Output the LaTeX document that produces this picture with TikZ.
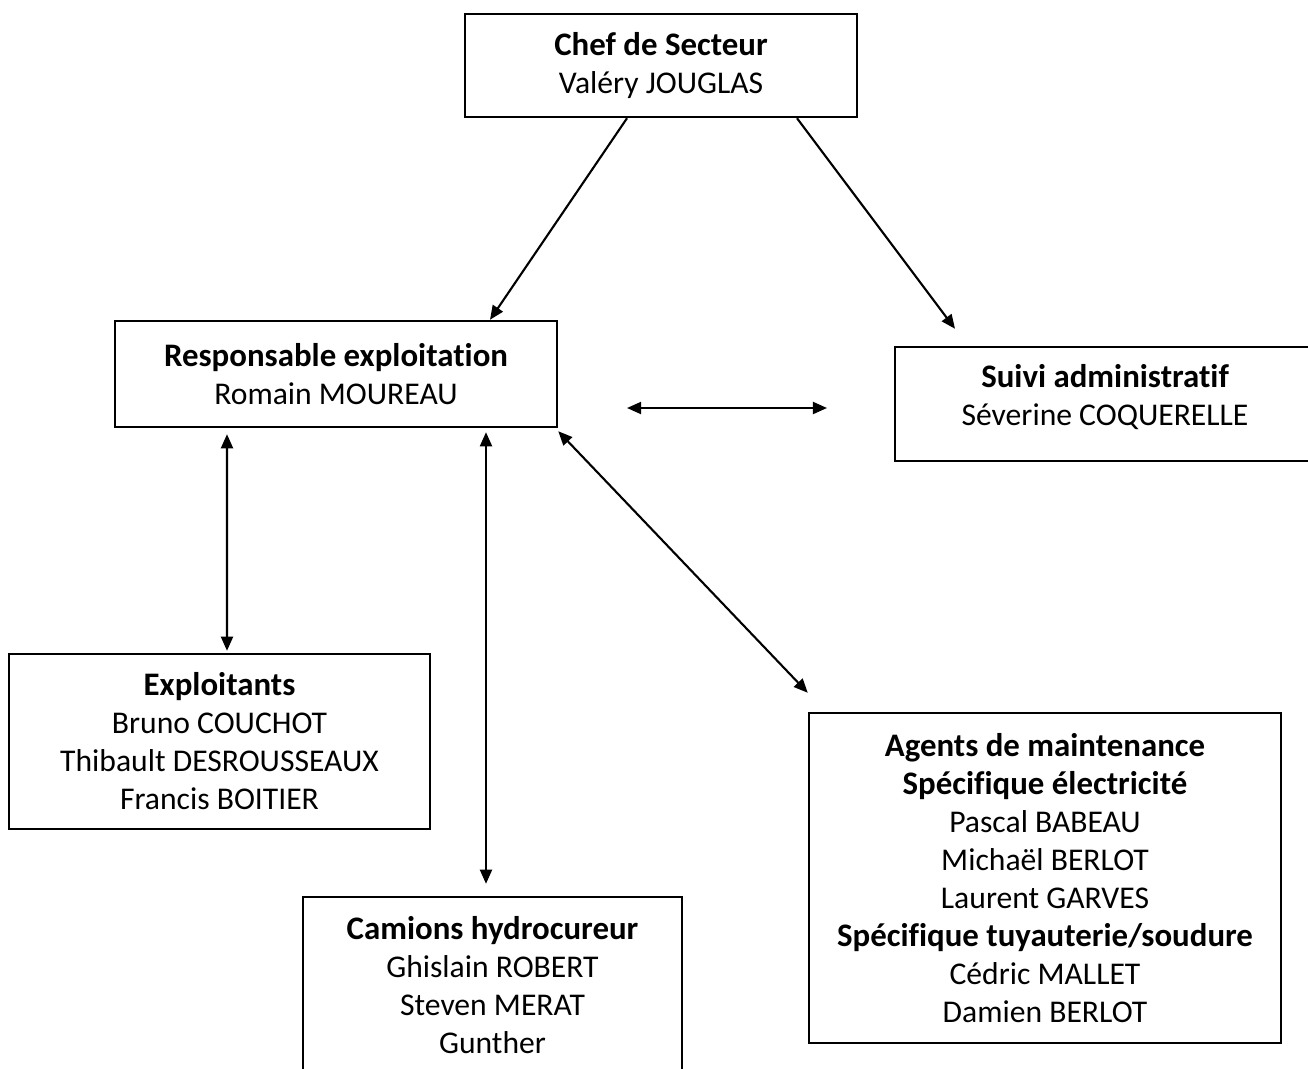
\documentclass[tikz,border=0pt]{standalone}
\usepackage{fontspec}
\setmainfont{Carlito}[Ligatures=NoCommon]
\usetikzlibrary{arrows.meta}
\newcommand{\boxhead}[1]{{\fontsize{9.35}{10.8}\selectfont\textbf{#1}}}
\begin{document}
\begin{tikzpicture}[
  box/.style={draw, line width=0.7pt, align=center, inner sep=0pt,
    font=\fontsize{9}{10.8}\selectfont},
  arr/.style={line width=0.6pt, -{Triangle[length=4pt,width=3.4pt]}},
  darr/.style={line width=0.6pt, {Triangle[length=4pt,width=3.4pt]}-{Triangle[length=4pt,width=3.4pt]}}]
			\useasboundingbox (0,0) rectangle (13.08,-10.68);
			\node[box, minimum width=3.92cm, minimum height=1.03cm] (chef) at (6.61,-0.655) {\boxhead{Chef de Secteur}\\Valéry JOUGLAS};
			\node[box, minimum width=4.42cm, minimum height=1.06cm] (resp) at (3.36,-3.74) {\boxhead{Responsable exploitation}\\Romain MOUREAU};
			\node[box, minimum width=4.2cm, minimum height=1.14cm] (suivi) at (11.05,-4.04) {\boxhead{Suivi administratif}\\Séverine COQUERELLE\rule[-0.18cm]{0pt}{0pt}};
			\node[box, minimum width=4.21cm, minimum height=1.75cm] (expl) at (2.195,-7.415) {\boxhead{Exploitants}\\Bruno COUCHOT\\Thibault DESROUSSEAUX\\Francis BOITIER};
			\node[box, minimum width=3.79cm, minimum height=1.76cm] (cam) at (4.925,-9.85) {\boxhead{Camions hydrocureur}\\Ghislain ROBERT\\Steven MERAT\\Gunther};
			\node[box, minimum width=4.72cm, minimum height=3.30cm] (agents) at (10.45,-8.78) {\boxhead{Agents de maintenance}\\\boxhead{Spécifique électricité}\\Pascal BABEAU\\Michaël BERLOT\\Laurent GARVES\\\boxhead{Spécifique tuyauterie/soudure}\\Cédric MALLET\\Damien BERLOT};
			\coordinate (hl) at (6.27,-4.08);
			\coordinate (hr) at (8.27,-4.08);
			\draw[arr] ([xshift=-0.34cm]chef.south) -- ([xshift=1.54cm]resp.north);
			\draw[arr] ([xshift=1.36cm]chef.south) -- ([xshift=-1.50cm,yshift=0.17cm]suivi.north);
			\draw[darr] (hl) -- (hr);
			\draw[darr] ([xshift=-1.09cm,yshift=-0.06cm]resp.south) -- ([xshift=0.075cm,yshift=0.02cm]expl.north);
			\draw[darr] ([xshift=1.50cm,yshift=-0.04cm]resp.south) -- ([xshift=-0.065cm,yshift=0.12cm]cam.north);
			\draw[darr] ([yshift=-0.03cm]resp.south east) -- ([yshift=0.19cm]agents.north west);
		\end{tikzpicture}
\end{document}
